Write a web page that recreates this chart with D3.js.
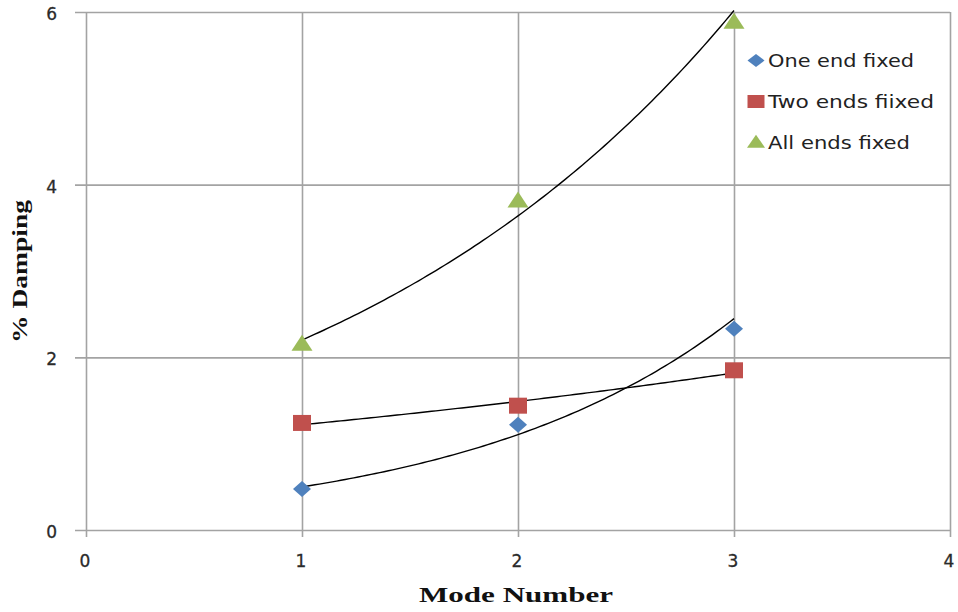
<!DOCTYPE html>
<html><head><meta charset="utf-8">
<script src="https://cdn.jsdelivr.net/npm/d3@7"></script>
<style>body{margin:0;background:#fff}svg{display:block}</style>
</head><body>
<svg id="c" width="958" height="612"></svg>
<script>
const modes = [1, 2, 3];
const oneEnd = [0.475, 1.22, 2.33];
const twoEnds = [1.24, 1.44, 1.85];
const allEnds = [2.15, 3.81, 5.88];
const xTicks = [0, 1, 2, 3, 4];
const yTicks = [0, 2, 4, 6];
const seriesNames = ["One end fixed", "Two ends fiixed", "All ends fixed"];

const svg = d3.select("#c");
const x = d3.scaleLinear().domain([0, 4]).range([86, 950]);
const y = d3.scaleLinear().domain([0, 6]).range([530, 12]);
const gridColor = "#a3a3a3";

// gridlines + ticks
const gx = svg.append("g").attr("transform", "translate(0,12)")
  .call(d3.axisBottom(x).tickValues(xTicks).tickSize(525).tickFormat(""));
const gy = svg.append("g").attr("transform", "translate(950,0)")
  .call(d3.axisLeft(y).tickValues(yTicks).tickSize(875).tickFormat(""));
[gx, gy].forEach(g => {
  g.select(".domain").remove();
  g.selectAll("line").attr("stroke", gridColor).attr("stroke-width", 1.6);
});

// tick labels
const tickStyle = sel => sel.attr("font-family", "DejaVu Sans, sans-serif")
  .attr("font-size", 17).attr("fill", "#2a2a2a")
  .attr("stroke", "#2a2a2a").attr("stroke-width", 0.3);
svg.append("g").selectAll("text").data(xTicks).join("text")
  .attr("x", d => x(d) - 1).attr("y", 567).attr("text-anchor", "middle")
  .call(tickStyle).text(d => d);
svg.append("g").selectAll("text").data(yTicks).join("text")
  .attr("x", 57).attr("y", d => y(d) + 8).attr("text-anchor", "end")
  .call(tickStyle).text(d => d);

// axis titles
svg.append("text").attr("x", 419).attr("y", 602)
  .attr("textLength", 194).attr("lengthAdjust", "spacingAndGlyphs")
  .attr("font-family", "Liberation Serif, serif").attr("font-weight", "bold")
  .attr("font-size", 21).attr("fill", "#111").text("Mode Number");
svg.append("text").attr("transform", "translate(27,343) rotate(-90)")
  .attr("textLength", 143).attr("lengthAdjust", "spacingAndGlyphs")
  .attr("font-family", "Liberation Serif, serif").attr("font-weight", "bold")
  .attr("font-size", 21).attr("fill", "#111").text("% Damping");

// exponential trendlines (least squares on log values)
function expFit(xs, ys) {
  const ly = ys.map(Math.log);
  const mx = d3.mean(xs), my = d3.mean(ly);
  const b = d3.sum(xs, (v, i) => (v - mx) * (ly[i] - my)) / d3.sum(xs, v => (v - mx) ** 2);
  const a = my - b * mx;
  return t => Math.exp(a + b * t);
}
const line = d3.line().x(d => x(d[0])).y(d => y(d[1]));
[oneEnd, twoEnds, allEnds].forEach(vals => {
  const f = expFit(modes, vals);
  const pts = d3.range(1, 3.001, 0.02).map(t => [t, f(t)]);
  svg.append("path").attr("d", line(pts)).attr("fill", "none")
    .attr("stroke", "#000").attr("stroke-width", 1.4);
});

// marker shapes (w, h)
const colors = ["#4F81BD", "#C0504D", "#9BBB59"];
function shape(s, w, h) {
  const p = d3.path();
  if (s === 0) { p.moveTo(0, -h / 2); p.lineTo(w / 2, 0); p.lineTo(0, h / 2); p.lineTo(-w / 2, 0); }
  else if (s === 1) { p.rect(-w / 2, -h / 2, w, h); }
  else { p.moveTo(0, -h * 0.6); p.lineTo(w / 2, h * 0.4); p.lineTo(-w / 2, h * 0.4); }
  p.closePath();
  return p.toString();
}
const markSize = [[18, 16], [18, 16], [21, 16]];
[oneEnd, twoEnds, allEnds].forEach((vals, s) => {
  svg.append("g").selectAll("path").data(modes).join("path")
    .attr("d", shape(s, markSize[s][0], markSize[s][1]))
    .attr("transform", (d, i) => `translate(${x(d)},${y(vals[i])})`)
    .attr("fill", colors[s]);
});

// legend
const leg = svg.append("g");
const legLen = [146, 166, 142];
const legSize = [[17, 13], [17, 13], [18, 13]];
seriesNames.forEach((name, i) => {
  const cy = 60.5 + i * 41;
  leg.append("path")
    .attr("d", shape(i, legSize[i][0], legSize[i][1]))
    .attr("transform", `translate(756,${cy})`)
    .attr("fill", colors[i]);
  leg.append("text").attr("x", 768).attr("y", cy + 6.5)
    .attr("textLength", legLen[i]).attr("lengthAdjust", "spacingAndGlyphs")
    .attr("font-family", "DejaVu Sans, sans-serif").attr("font-size", 17)
    .attr("fill", "#222").text(name);
});
</script>
</body></html>
